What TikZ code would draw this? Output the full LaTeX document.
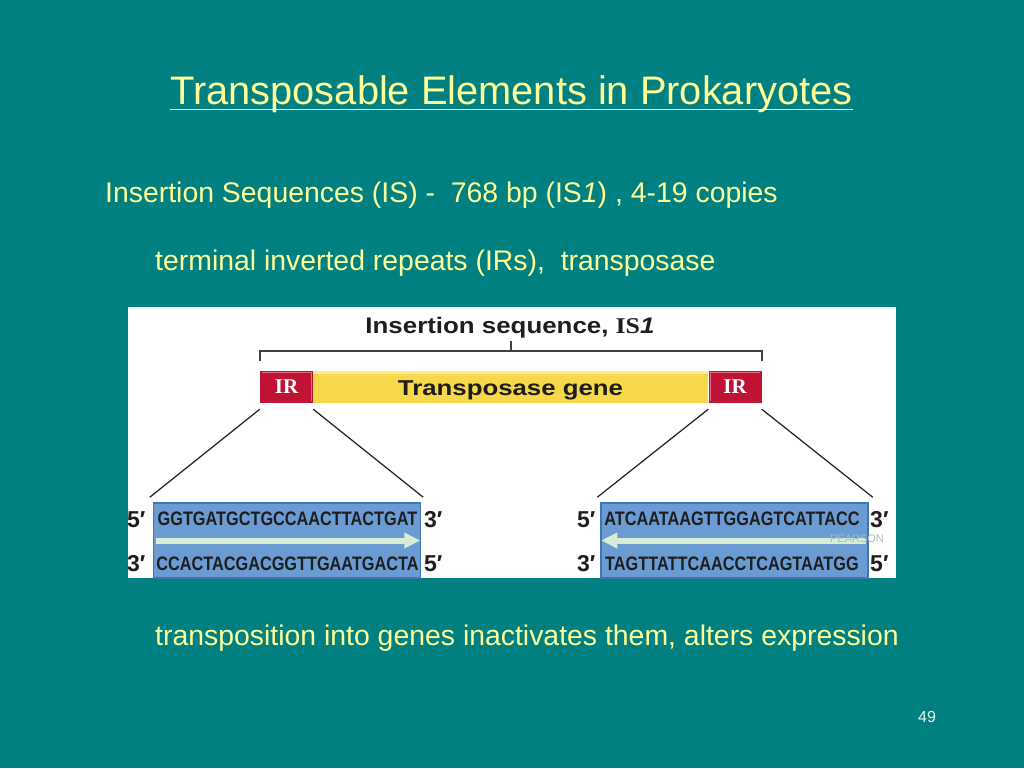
\documentclass[tikz,border=0pt]{standalone}
\usepackage{fontspec}
\setmainfont{Liberation Sans}
\newfontfamily\timesf{Liberation Serif}
\usetikzlibrary{arrows.meta}
\definecolor{bgteal}{RGB}{0,128,128}
\definecolor{slideyellow}{RGB}{255,255,153}
\definecolor{irred}{RGB}{192,18,52}
\definecolor{irpink}{RGB}{230,110,130}
\definecolor{geneyellow}{RGB}{247,216,74}
\definecolor{genelight}{RGB}{252,236,140}
\definecolor{dnablue}{RGB}{106,155,211}
\definecolor{dnaedge}{RGB}{63,118,184}
\definecolor{mint}{RGB}{214,237,213}
\definecolor{figdark}{RGB}{30,30,30}
\definecolor{watermark}{RGB}{170,185,200}
\tikzset{
  slidetext/.style={text=slideyellow, inner sep=0pt, font=\fontsize{28.4}{34}\selectfont},
  figtext/.style={text=figdark, inner sep=0pt},
  irbox/.style={fill=irred, text=white, inner sep=0pt, minimum width=53pt, minimum height=32pt,
     font=\timesf\bfseries\fontsize{21}{24}\selectfont},
  genebar/.style={fill=geneyellow, inner sep=0pt, minimum width=395pt, minimum height=32pt},
  dnabox/.style={fill=dnablue, draw=dnaedge, line width=1.5pt, inner sep=0pt, minimum width=267pt, minimum height=75pt},
  seqtext/.style={text=figdark, inner sep=0pt, anchor=base, font=\bfseries\fontsize{19.5}{22}\selectfont},
  endlabel/.style={text=figdark, inner sep=0pt, anchor=base west, font=\bfseries\fontsize{23}{26}\selectfont},
  bracketline/.style={draw=figdark!85, line width=1.4pt},
  diagline/.style={draw=figdark, line width=1.2pt},
  strandarrow/.style={draw=mint, line width=6pt, -{Triangle[length=16pt,width=15pt]}}
}
\begin{document}
\begin{tikzpicture}[x=1pt,y=-1pt]
\fill[bgteal] (0,0) rectangle (1024,768);
\useasboundingbox (0,0) rectangle (1024,768);

% slide title
\node[slidetext, anchor=base, font=\fontsize{39.8}{46}\selectfont] (title) at (511.5,104) {Transposable Elements in Prokaryotes};
\draw[slideyellow, line width=1.8pt] ([yshift=-5.5pt]title.base west) -- ([yshift=-5.5pt]title.base east);

% bullet lines
\node[slidetext, anchor=base west] (line2) at (105,202) {Insertion Sequences (IS) -\ \ 768 bp (IS\textit{1}) , 4-19 copies};
\node[slidetext, anchor=base west] (line3) at (155,270) {terminal inverted repeats (IRs),\ \ transposase};
\node[slidetext, anchor=base west] (line4) at (155,645) {transposition into genes inactivates them, alters expression};
\node[text=white!92!bgteal, inner sep=0pt, anchor=base, font=\fontsize{16}{18}\selectfont] (pagenum) at (927,722) {49};

% figure panel
\fill[white] (128,307) rectangle (896,578);

\node[figtext, anchor=base, font=\bfseries\fontsize{22.5}{26}\selectfont] (figtitle) at (510,333)
  {\scalebox{1.15}[1]{Insertion sequence, {\timesf\bfseries IS}{\itshape 1}}};

% bracket
\draw[bracketline] (260,361) -- (260,351) -- (762,351) -- (762,361);
\draw[bracketline] (511,351) -- (511,341);

% IS1 element
\node[genebar] (gene) at (510.5,387) {};
\fill[genelight] (gene.north west) rectangle ([yshift=-3pt]gene.north east);
\node[figtext, anchor=base, font=\bfseries\fontsize{21.5}{24}\selectfont] (genelabel) at (510.5,395)
  {\scalebox{1.2}[1]{Transposase gene}};
\node[irbox] (irL) at (286.5,387) {IR};
\node[irbox] (irR) at (735,387) {IR};
\draw[irpink, line width=0.8pt] ([xshift=2pt,yshift=-2pt]irL.north west) -- ([xshift=-2pt,yshift=-2pt]irL.north east) -- ([xshift=-2pt,yshift=2pt]irL.south east);
\draw[irpink, line width=0.8pt] ([xshift=2pt,yshift=2pt]irR.south west) -- ([xshift=2pt,yshift=-2pt]irR.north west) -- ([xshift=-2pt,yshift=-2pt]irR.north east);

% DNA boxes
\node[dnabox] (dnaL) at (287,540.5) {};
\node[dnabox] (dnaR) at (734.5,540.5) {};

% connectors from IRs to sequence boxes
\draw[diagline] ([yshift=-6pt]irL.south west) -- ([xshift=-3pt,yshift=5pt]dnaL.north west);
\draw[diagline] ([yshift=-6pt]irL.south east) -- ([xshift=2pt,yshift=5pt]dnaL.north east);
\draw[diagline] ([yshift=-6pt]irR.south west) -- ([xshift=-3pt,yshift=5pt]dnaR.north west);
\draw[diagline] ([yshift=-6pt]irR.south east) -- ([xshift=4pt,yshift=5pt]dnaR.north east);

% strand arrows
\draw[strandarrow] ([xshift=3pt]dnaL.west) -- ([xshift=-1pt]dnaL.east);
\draw[strandarrow] ([xshift=-3pt]dnaR.east) -- ([xshift=1pt]dnaR.west);
\node[text=watermark, inner sep=0pt, anchor=base, font=\fontsize{11}{12}\selectfont] (pearson) at (857,542) {PEARSON};

% sequences
\node[seqtext] (sL1) at (287.5,525) {\scalebox{0.835}[1]{GGTGATGCTGCCAACTTACTGAT}};
\node[seqtext] (sL2) at (287.5,570) {\scalebox{0.835}[1]{CCACTACGACGGTTGAATGACTA}};
\node[seqtext] (sR1) at (732,525) {\scalebox{0.835}[1]{ATCAATAAGTTGGAGTCATTACC}};
\node[seqtext] (sR2) at (732,570) {\scalebox{0.835}[1]{TAGTTATTCAACCTCAGTAATGG}};

% strand end labels
\node[endlabel] (l5a) at (127,527) {5\char"2032};
\node[endlabel] (l3a) at (127,571) {3\char"2032};
\node[endlabel] (l3b) at (424,527) {3\char"2032};
\node[endlabel] (l5b) at (424,571) {5\char"2032};
\node[endlabel] (l5c) at (577,527) {5\char"2032};
\node[endlabel] (l3c) at (577,571) {3\char"2032};
\node[endlabel] (l3d) at (870,527) {3\char"2032};
\node[endlabel] (l5d) at (870,571) {5\char"2032};
\end{tikzpicture}
\end{document}
